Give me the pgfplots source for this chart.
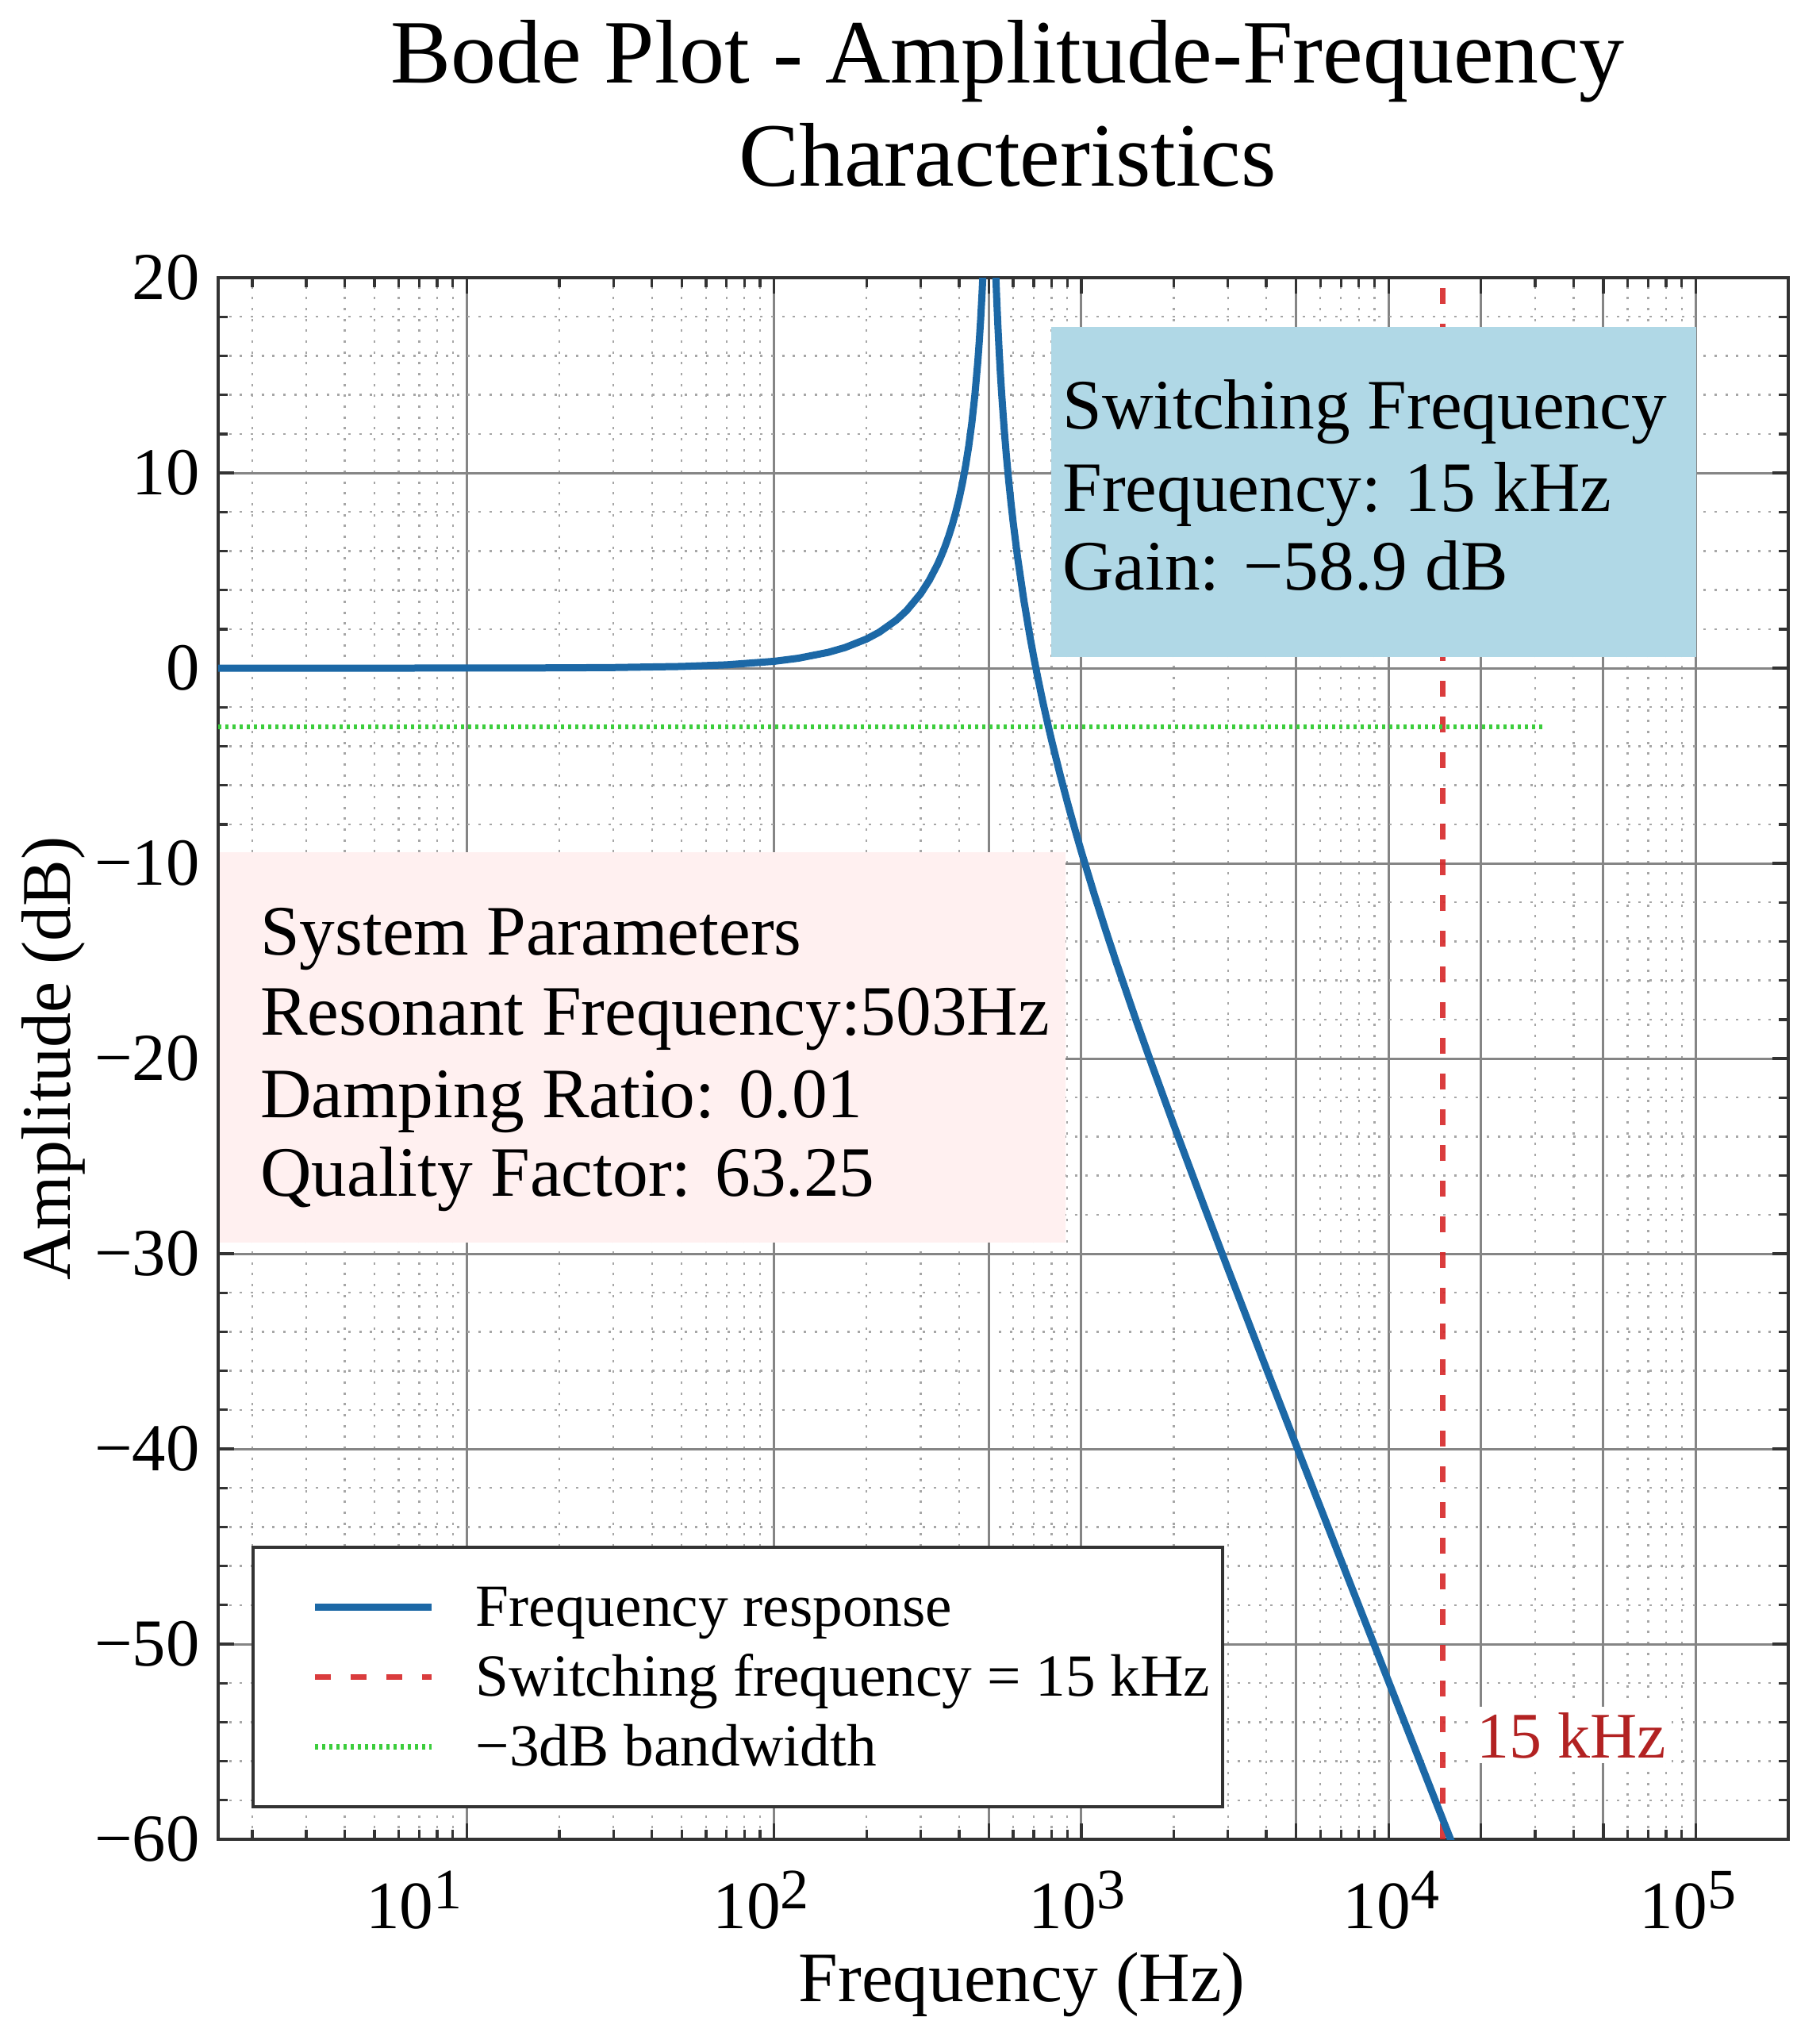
\documentclass[border=0pt]{standalone}
\usepackage{fontspec}
\setmainfont{Liberation Serif}
\usepackage{pgfplots}
\pgfplotsset{compat=1.18}

\definecolor{curveblue}{RGB}{28,104,166}
\definecolor{swred}{RGB}{214,39,40}
\definecolor{lblred}{RGB}{178,34,34}
\definecolor{bwgreen}{RGB}{60,205,60}
\definecolor{boxblue}{RGB}{176,216,230}
\definecolor{boxpink}{RGB}{255,240,240}

% decade label: #1 exponent, #2 twice the sideways shift, #3 raise
\newcommand{\sx}[3]{\makebox[0pt][c]{\hspace*{#2}\raisebox{#3}{10\raisebox{3.75pt}{\fontsize{10.8pt}{11pt}\selectfont #1}}}}

\begin{document}
\begin{tikzpicture}
\begin{axis}[
    at={(0pt,0pt)}, anchor=south west,
    width=296.85pt, height=295.2pt, scale only axis,
    xmode=log,
    xmin=1.55, xmax=2e5,
    ymin=-60, ymax=20,
    xtick={10,100,1000,10000,100000},
    xticklabels={\sx{1}{-20pt}{0pt},\sx{2}{-5pt}{0pt},\sx{3}{-1.6pt}{-0.75pt},
                 \sx{4}{1pt}{1.35pt},\sx{5}{-3pt}{1.35pt}},
    minor xtick={2,3,4,5,6,7,8,9,20,30,40,50,60,70,80,90,
                 200,300,400,500,600,700,800,900,
                 2000,3000,4000,5000,6000,7000,8000,9000,
                 20000,30000,40000,50000,60000,70000,80000,90000},
    extra x ticks={500,5000,20000,50000},
    extra x tick labels={},
    extra x tick style={grid=major},
    ytick={-60,-50,...,20},
    yticklabels={−60,−50,−40,−30,−20,−10,0,10,20},
    minor y tick num=4,
    grid=both,
    major grid style={draw=black!48, line width=0.45pt},
    minor grid style={draw=black!35, line width=0.35pt, dash pattern=on 0.45pt off 1.6pt},
    tick align=inside,
    major tick length=3pt,
    minor tick length=1.8pt,
    tick style={black!80, line width=0.5pt},
    axis line style={black!80, line width=0.6pt},
    xticklabel style={font=\fontsize{12.8pt}{15pt}\selectfont, yshift=-2.5pt},
    yticklabel style={font=\fontsize{12.7pt}{15pt}\selectfont},
    xlabel={Frequency (Hz)},
    ylabel={Amplitude (dB)},
    xlabel style={font=\fontsize{13.4pt}{16pt}\selectfont,
        at={(axis description cs:0.512,-0.1037)}, anchor=base},
    ylabel style={font=\fontsize{13.2pt}{16pt}\selectfont,
        at={(axis description cs:-0.084,0.5)}, anchor=south, inner sep=0pt},
    legend cell align=left,
    legend image code/.code={
        \path[draw=none, fill=none] (0pt,0pt) -- (9.4pt,0pt);
        \draw[#1] (9.4pt,0pt) -- (31.4pt,0pt);
    },
    legend style={
        at={(axis description cs:0.02122,0.01982)}, anchor=south west,
        draw=black!80, line width=0.6pt, fill=white,
        font=\fontsize{11.3pt}{13.2pt}\selectfont,
        inner xsep=2.3pt, inner ysep=4.65pt,
        row sep=-0.1pt, column sep=7.75pt,
        nodes={inner xsep=0pt, inner ysep=0.5pt, text height=9.7pt, text depth=2.6pt},
    },
]

% legend order: response first, then the two markers
\addlegendimage{curveblue, line width=1.35pt}
\addlegendentry{Frequency response}

% switching frequency
\addplot[swred, opacity=0.9, line width=1pt, dash pattern=on 3pt off 3.75pt]
    coordinates {(15000,-60) (15000,20)};
\addlegendentry{Switching frequency = 15 kHz}

% -3 dB level
\addplot[bwgreen, line width=1pt, dash pattern=on 0.6pt off 0.75pt]
    coordinates {(1.55,-3) (31623,-3)};
\addlegendentry{−3dB bandwidth}

% magnitude, f0 = 503 Hz, zeta = 0.01
\addplot[curveblue, line width=1.35pt, forget plot] table {
f db
1.55 0.0001
3 0.0003
5 0.0009
10 0.0034
20 0.0137
30 0.0310
50 0.0862
70 0.170
100 0.350
120 0.509
150 0.809
170 1.053
200 1.494
220 1.844
250 2.464
270 2.951
300 3.817
320 4.504
340 5.300
350 5.747
360 6.232
370 6.761
380 7.340
390 7.978
400 8.684
410 9.473
420 10.364
430 11.381
440 12.561
450 13.961
460 15.667
465 16.680
470 17.837
475 19.183
477 19.787
480 20.784
490 25.25
503 33.98
515 25.61
527 20.007
530 18.998
535 17.523
540 16.248
545 15.124
550 14.118
560 12.377
570 10.902
580 9.619
590 8.483
600 7.462
620 5.682
650 3.473
680 1.639
700 0.564
720 -0.418
750 -1.753
780 -2.954
800 -3.693
850 -5.371
900 -6.855
950 -8.190
1000 -9.404
1100 -11.556
1200 -13.427
1300 -15.087
1500 -17.945
1700 -20.359
2000 -23.411
2500 -27.496
3000 -30.774
4000 -35.881
5000 -39.808
7000 -45.696
10000 -51.915
15000 -58.971
20000 -63.973
50000 -79.895
};
\end{axis}

% annotation boxes
\fill[boxpink] (0.3pt,112.8pt) rectangle (160.2pt,186.6pt);
\fill[boxblue] (157.5pt,223.5pt) rectangle (279.45pt,285.9pt);

\begin{scope}[every node/.style={anchor=base west, inner sep=0pt,
        font=\fontsize{13.4pt}{16pt}\selectfont}]
\node at (7.8pt,167.25pt) {System Parameters};
\node at (7.8pt,152.0pt) {Resonant Frequency:503Hz};
\node at (7.8pt,136.5pt) {Damping Ratio: 0.01};
\node at (7.8pt,121.5pt) {Quality Factor: 63.25};
\node at (159.45pt,266.55pt) {Switching Frequency};
\node at (159.45pt,251.1pt) {Frequency: 15 kHz};
\node at (159.45pt,236.16pt) {Gain: −58.9 dB};
\end{scope}

\node[anchor=base west, fill=white, inner sep=1pt, text=lblred,
    font=\fontsize{12.3pt}{14pt}\selectfont] at (236.75pt,15.45pt) {15 kHz};

% title
\node[anchor=base, font=\fontsize{17.1pt}{20pt}\selectfont] at (149.25pt,331.95pt)
    {Bode Plot - Amplitude-Frequency};
\node[anchor=base, font=\fontsize{17.1pt}{20pt}\selectfont] at (149.25pt,312.5pt)
    {Characteristics};

\pgfresetboundingbox
\useasboundingbox (-41.25pt,-38.7pt) rectangle (302.85pt,347.7pt);
\end{tikzpicture}
\end{document}
